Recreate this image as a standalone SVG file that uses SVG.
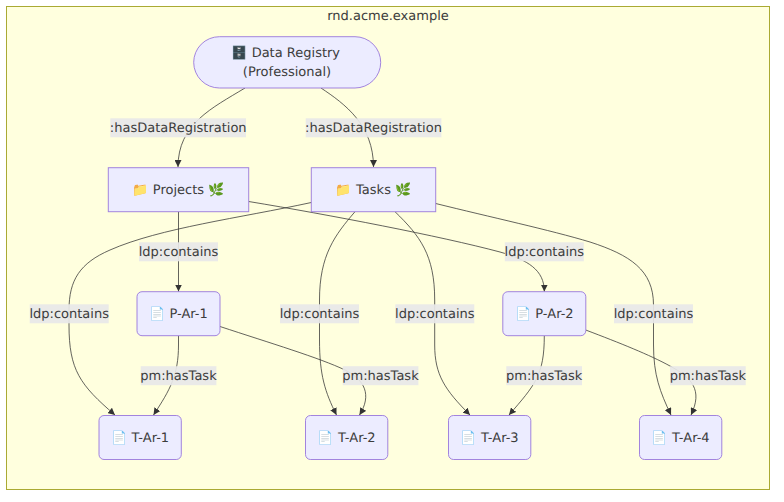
<svg xmlns="http://www.w3.org/2000/svg" width="784" height="502" viewBox="0 0 784 502">
<defs>
<marker id="arrow" viewBox="0 0 7 7" refX="7" refY="3.5" markerWidth="7" markerHeight="7" markerUnits="userSpaceOnUse" orient="auto"><path d="M0,0 L7,3.5 L0,7 Z" fill="#333"/></marker>
</defs>
<style>
text{font-family:"DejaVu Sans","Noto Color Emoji",sans-serif;font-size:13px;fill:#3c3c3c;text-anchor:middle;text-rendering:geometricPrecision}
.n{fill:#ECECFF;stroke:#9370DB;stroke-width:1;stroke-opacity:.85}
.e{fill:none;stroke:#333;stroke-opacity:.85;stroke-width:.9;marker-end:url(#arrow)}
.lb{fill:#e8e8e8;fill-opacity:.92}
</style>
<rect x="6.5" y="6.5" width="763" height="483" fill="#ffffde" stroke="#aaaa33"/>
<text x="388" y="20">rnd.acme.example</text>
<g id="connectors">
<path class="e" d="M245,88 C212,108 178,124 178,167"/>
<path class="e" d="M321,88 C345,104 373.5,125 373.5,167"/>
<path class="e" d="M178.5,211.7 L178.5,291.5"/>
<path class="e" d="M248.7,201.5 C330,215 440,236 500,252 C528,260 544.3,270 544.3,291.5"/>
<path class="e" d="M311.3,202.5 C240,218 160,228 110,250 C80,263 69,280 69,310 L69,325 C69,370 80,385 115,415"/>
<path class="e" d="M355,211.7 C335,235 319.5,255 319.5,300 L319.5,340 C319.5,375 325,392 336.5,415"/>
<path class="e" d="M395,211.7 C420,236 434.7,255 434.7,300 L434.7,345 C434.7,375 445,390 470,415"/>
<path class="e" d="M435.7,203.5 C490,217 550,230 590,242 C630,255 653.5,270 653.5,305 L653.5,345 C653.5,375 660,392 671,415"/>
<path class="e" d="M178.5,335.7 L178.5,345 C178.5,375 170,390 153.5,415"/>
<path class="e" d="M220,326.5 C270,343 320,358 345,370 C365,380 372,395 359.5,415"/>
<path class="e" d="M544.3,335.7 C544.3,375 535,385 509,415"/>
<path class="e" d="M585.7,330 C620,343 650,355 670,366 C692,378 703,390 691,415"/>
</g>
<g id="edge-labels">
<rect class="lb" x="110.3" y="118.3" width="135.7" height="19"/><text x="178.2" y="132">:hasDataRegistration</text>
<rect class="lb" x="305.7" y="118.3" width="135.7" height="19"/><text x="373.5" y="132">:hasDataRegistration</text>
<rect class="lb" x="139" y="242.3" width="79" height="19"/><text x="178.5" y="256">ldp:contains</text>
<rect class="lb" x="504.8" y="242.3" width="79" height="19"/><text x="544.3" y="256">ldp:contains</text>
<rect class="lb" x="29.7" y="304.3" width="79" height="19"/><text x="69.2" y="318">ldp:contains</text>
<rect class="lb" x="280" y="304.3" width="79" height="19"/><text x="319.5" y="318">ldp:contains</text>
<rect class="lb" x="395.3" y="304.3" width="79" height="19"/><text x="434.8" y="318">ldp:contains</text>
<rect class="lb" x="614" y="304.3" width="79" height="19"/><text x="653.5" y="318">ldp:contains</text>
<rect class="lb" x="140.7" y="366.2" width="75.7" height="19"/><text x="178.5" y="380">pm:hasTask</text>
<rect class="lb" x="342.7" y="366.2" width="75.7" height="19"/><text x="380.5" y="380">pm:hasTask</text>
<rect class="lb" x="506.3" y="366.2" width="75.7" height="19"/><text x="544.2" y="380">pm:hasTask</text>
<rect class="lb" x="670" y="366.2" width="75.7" height="19"/><text x="707.8" y="380">pm:hasTask</text>
</g>
<g id="data-registry"><rect class="n" x="193.7" y="36.7" width="187" height="51.3" rx="25.7"/><text x="285.7" y="57">🗄️ Data Registry</text><text x="287" y="76">(Professional)</text></g>
<g id="projects"><rect class="n" x="108.3" y="167.7" width="140.4" height="44"/><text x="178.5" y="194">📁 Projects 🌿</text></g>
<g id="tasks"><rect class="n" x="311.3" y="167.7" width="124.4" height="44"/><text x="373.5" y="194">📁 Tasks 🌿</text></g>
<g id="p-ar-1"><rect class="n" x="137" y="291.7" width="83" height="44" rx="5"/><text x="178.5" y="318">📄 P-Ar-1</text></g>
<g id="p-ar-2"><rect class="n" x="502.8" y="291.7" width="83" height="44" rx="5"/><text x="544.3" y="318">📄 P-Ar-2</text></g>
<g id="t-ar-1"><rect class="n" x="99" y="415.5" width="82.3" height="44" rx="5"/><text x="140.2" y="442">📄 T-Ar-1</text></g>
<g id="t-ar-2"><rect class="n" x="305.5" y="415.5" width="82.3" height="44" rx="5"/><text x="346.7" y="442">📄 T-Ar-2</text></g>
<g id="t-ar-3"><rect class="n" x="448.5" y="415.5" width="82.3" height="44" rx="5"/><text x="489.7" y="442">📄 T-Ar-3</text></g>
<g id="t-ar-4"><rect class="n" x="639.5" y="415.5" width="82.3" height="44" rx="5"/><text x="680.7" y="442">📄 T-Ar-4</text></g>
</svg>
